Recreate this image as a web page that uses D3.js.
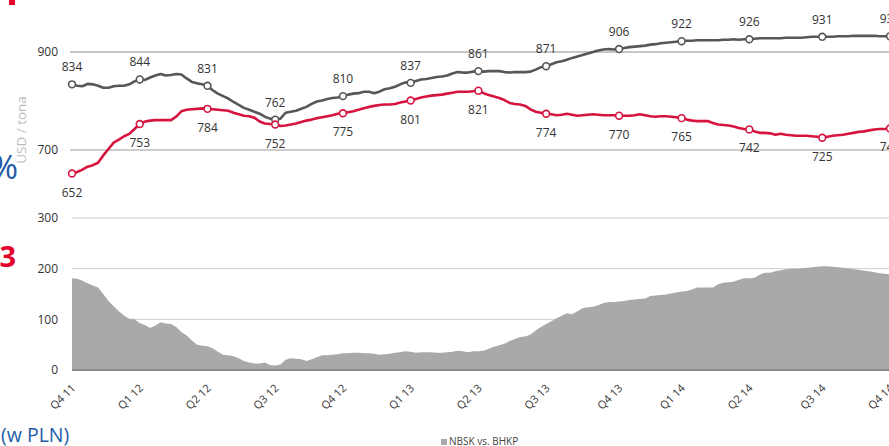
<!DOCTYPE html>
<html><head><meta charset="utf-8">
<script src="https://cdn.jsdelivr.net/npm/d3@7"></script>
<style>
html,body{margin:0;padding:0;background:#fff;overflow:hidden;}
svg{display:block;font-family:"Open Sans",sans-serif;}
</style></head>
<body>
<svg id="c" width="889" height="446"></svg>
<script>
// ---- DATA ----
const quarterLabels = ["Q4 11","Q1 12","Q2 12","Q3 12","Q4 12","Q1 13","Q2 13","Q3 13","Q4 13","Q1 14","Q2 14","Q3 14","Q4 14"];
const quarterWeeks = [0,13,26,39,52,65,78,91,105,117,130,144,157];
const nbsk = [
834,831,830,835,834,831,827,827,830,831,
831,834,840,844,843,848,852,855,852,853,
855,854,846,839,836,834,831,822,815,810,
805,798,792,786,782,778,774,768,764,762,
764,776,778,780,784,788,794,799,801,804,
806,807,810,813,815,816,819,819,816,819,
824,826,829,834,838,837,841,844,845,847,
849,850,852,856,859,858,858,860,861,860,
861,861,861,859,858,859,859,859,860,864,
869,871,875,879,881,884,888,891,894,897,
900,903,905,906,905,906,908,910,911,912,
913,915,916,918,919,920,921,922,923,923,
924,924,924,924,924,925,925,926,925,926,
926,927,928,928,928,928,928,929,929,929,
929,930,931,931,931,931,931,932,932,932,
933,933,933,933,933,932,932,932];
const bhkp = [
652,655,660,666,669,674,689,702,715,721,
728,733,743,753,758,760,761,761,761,761,
768,779,782,783,784,785,784,783,782,781,
780,776,773,770,769,766,758,754,753,752,
749,750,752,754,757,760,762,765,767,769,
771,774,775,777,779,782,785,788,790,792,
793,793,794,797,799,801,804,807,809,811,
812,813,815,817,819,819,819,820,821,816,
812,809,806,802,796,794,793,790,783,778,
776,774,773,771,772,774,772,770,771,772,
773,772,771,771,771,770,770,770,771,773,
771,769,768,769,769,768,767,765,762,760,
759,759,759,755,752,751,750,748,745,743,
742,738,735,735,734,731,733,731,730,729,
729,729,728,727,725,727,729,730,731,733,
735,737,738,740,742,743,743,744];
const spread = [
181,180,176,171,167,163,150,136,126,116,
107,101,100,93,89,83,88,94,92,91,
85,75,68,58,50,48,47,43,36,30,
29,27,23,18,15,13,13,15,10,9,
11,20,23,22,21,18,21,25,29,29,
30,31,33,33,34,34,33,33,32,30,
31,32,34,35,37,36,34,35,35,35,
34,34,35,36,38,37,35,37,37,38,
42,46,49,52,57,61,65,66,70,78,
85,91,96,102,107,112,110,116,122,124,
125,128,132,134,134,135,136,138,139,140,
141,146,147,148,149,151,153,155,156,159,
163,163,163,163,169,172,173,174,178,181,
181,182,188,192,192,195,197,199,200,200,
201,202,203,204,205,205,204,203,202,201,
199,198,196,195,193,191,190,189];
const topTicks = [700, 900];
const bottomTicks = [0, 100, 200, 300];
const legendLabel = "NBSK vs. BHKP";
const unitLabel = "USD / tona";

// ---- CHART ----
const svg = d3.select("#c");
const RED = "#d7143f", GRAY = "#575757", AREA = "#a8a9ab", BLUE = "#1f5ca8";

const x = d3.scaleLinear().domain([0, nbsk.length - 1]).range([72, 890]);
const yTop = d3.scaleLinear().domain([700, 900]).range([150, 52]);
const yBot = d3.scaleLinear().domain([0, 300]).range([370, 218]);

// stray slide elements at left edge (cropped in the reference)
svg.append("rect").attr("x", 9).attr("y", 0).attr("width", 6).attr("height", 5).attr("fill", "#e4002b");
svg.append("text").attr("x", 18).attr("y", 179).attr("text-anchor", "end")
  .attr("font-size", 33).attr("fill", BLUE).text("%");
svg.append("text").attr("x", 16).attr("y", 267).attr("text-anchor", "end")
  .attr("font-size", 29).attr("font-weight", "bold").attr("fill", "#e4002b").text("3");
svg.append("text").attr("x", 1).attr("y", 442)
  .attr("font-size", 19.5).attr("fill", BLUE).text("(w PLN)");

// top gridlines
svg.append("g").selectAll("line").data(topTicks).join("line")
  .attr("x1", 70).attr("x2", 889)
  .attr("y1", d => yTop(d)).attr("y2", d => yTop(d))
  .attr("stroke", d => d === 900 ? "#8c8c8c" : "#bdbdbd")
  .attr("stroke-width", d => d === 900 ? 1 : 1.5);

const axTop = svg.append("g").attr("transform", "translate(60,0)")
  .call(d3.axisLeft(yTop).tickValues(topTicks).tickSize(0).tickPadding(2));
axTop.select(".domain").remove();
axTop.selectAll("text").attr("font-size", 12).attr("fill", "#333").attr("font-family", "Open Sans");

svg.append("text").attr("transform", "translate(26,130) rotate(-90)")
  .attr("text-anchor", "middle").attr("font-size", 13.5).attr("fill", "#bcbcbc").text(unitLabel);

// bottom gridlines
svg.append("g").selectAll("line").data(bottomTicks.filter(d => d > 0)).join("line")
  .attr("x1", 72).attr("x2", 889)
  .attr("y1", d => yBot(d)).attr("y2", d => yBot(d))
  .attr("stroke", "#cfcfcf").attr("stroke-width", 1);

const axBot = svg.append("g").attr("transform", "translate(60,0)")
  .call(d3.axisLeft(yBot).tickValues(bottomTicks).tickSize(0).tickPadding(2));
axBot.select(".domain").remove();
axBot.selectAll("text").attr("font-size", 12).attr("fill", "#333").attr("font-family", "Open Sans");

// area
svg.append("path").datum(spread)
  .attr("fill", AREA)
  .attr("d", d3.area().x((d, i) => x(i)).y0(yBot(0)).y1(d => yBot(d)));

svg.append("line").attr("x1", 72).attr("x2", 889).attr("y1", yBot(0)).attr("y2", yBot(0))
  .attr("stroke", "#8a8a8a").attr("stroke-width", 2);

// x axis labels
const axX = svg.append("g").attr("transform", `translate(0,${yBot(0)})`)
  .call(d3.axisBottom(x).tickValues(quarterWeeks).tickSize(0)
    .tickFormat(d => quarterLabels[quarterWeeks.indexOf(d)]));
axX.select(".domain").remove();
axX.selectAll("text")
  .attr("font-size", 11).attr("fill", "#333").attr("font-family", "Open Sans")
  .attr("text-anchor", "end").attr("dy", "0.35em").attr("y", 0).attr("x", 0)
  .attr("transform", "translate(1,16) rotate(-45)");

// lines
const line = d3.line().x((d, i) => x(i)).y(d => yTop(d));
svg.append("path").datum(nbsk).attr("fill", "none").attr("stroke", GRAY)
  .attr("stroke-width", 2.6).attr("stroke-linejoin", "round").attr("d", line);
svg.append("path").datum(bhkp).attr("fill", "none").attr("stroke", RED)
  .attr("stroke-width", 2.6).attr("stroke-linejoin", "round").attr("d", line);

function markers(series, color, dy) {
  const g = svg.append("g");
  g.selectAll("circle").data(quarterWeeks).join("circle")
    .attr("cx", d => x(d)).attr("cy", d => yTop(series[d])).attr("r", 3.4)
    .attr("fill", "#fff").attr("stroke", color).attr("stroke-width", 1.6);
  g.selectAll("text").data(quarterWeeks).join("text")
    .attr("x", d => x(d)).attr("y", d => yTop(series[d]) + dy)
    .attr("text-anchor", "middle").attr("font-size", 12).attr("fill", "#333")
    .text(d => series[d]);
}
markers(nbsk, GRAY, -13);
markers(bhkp, RED, 23);

// legend
svg.append("rect").attr("x", 441).attr("y", 439).attr("width", 6).attr("height", 6).attr("fill", AREA);
svg.append("text").attr("x", 449).attr("y", 445).attr("font-size", 10).attr("fill", "#444").text(legendLabel);
</script>
</body></html>
